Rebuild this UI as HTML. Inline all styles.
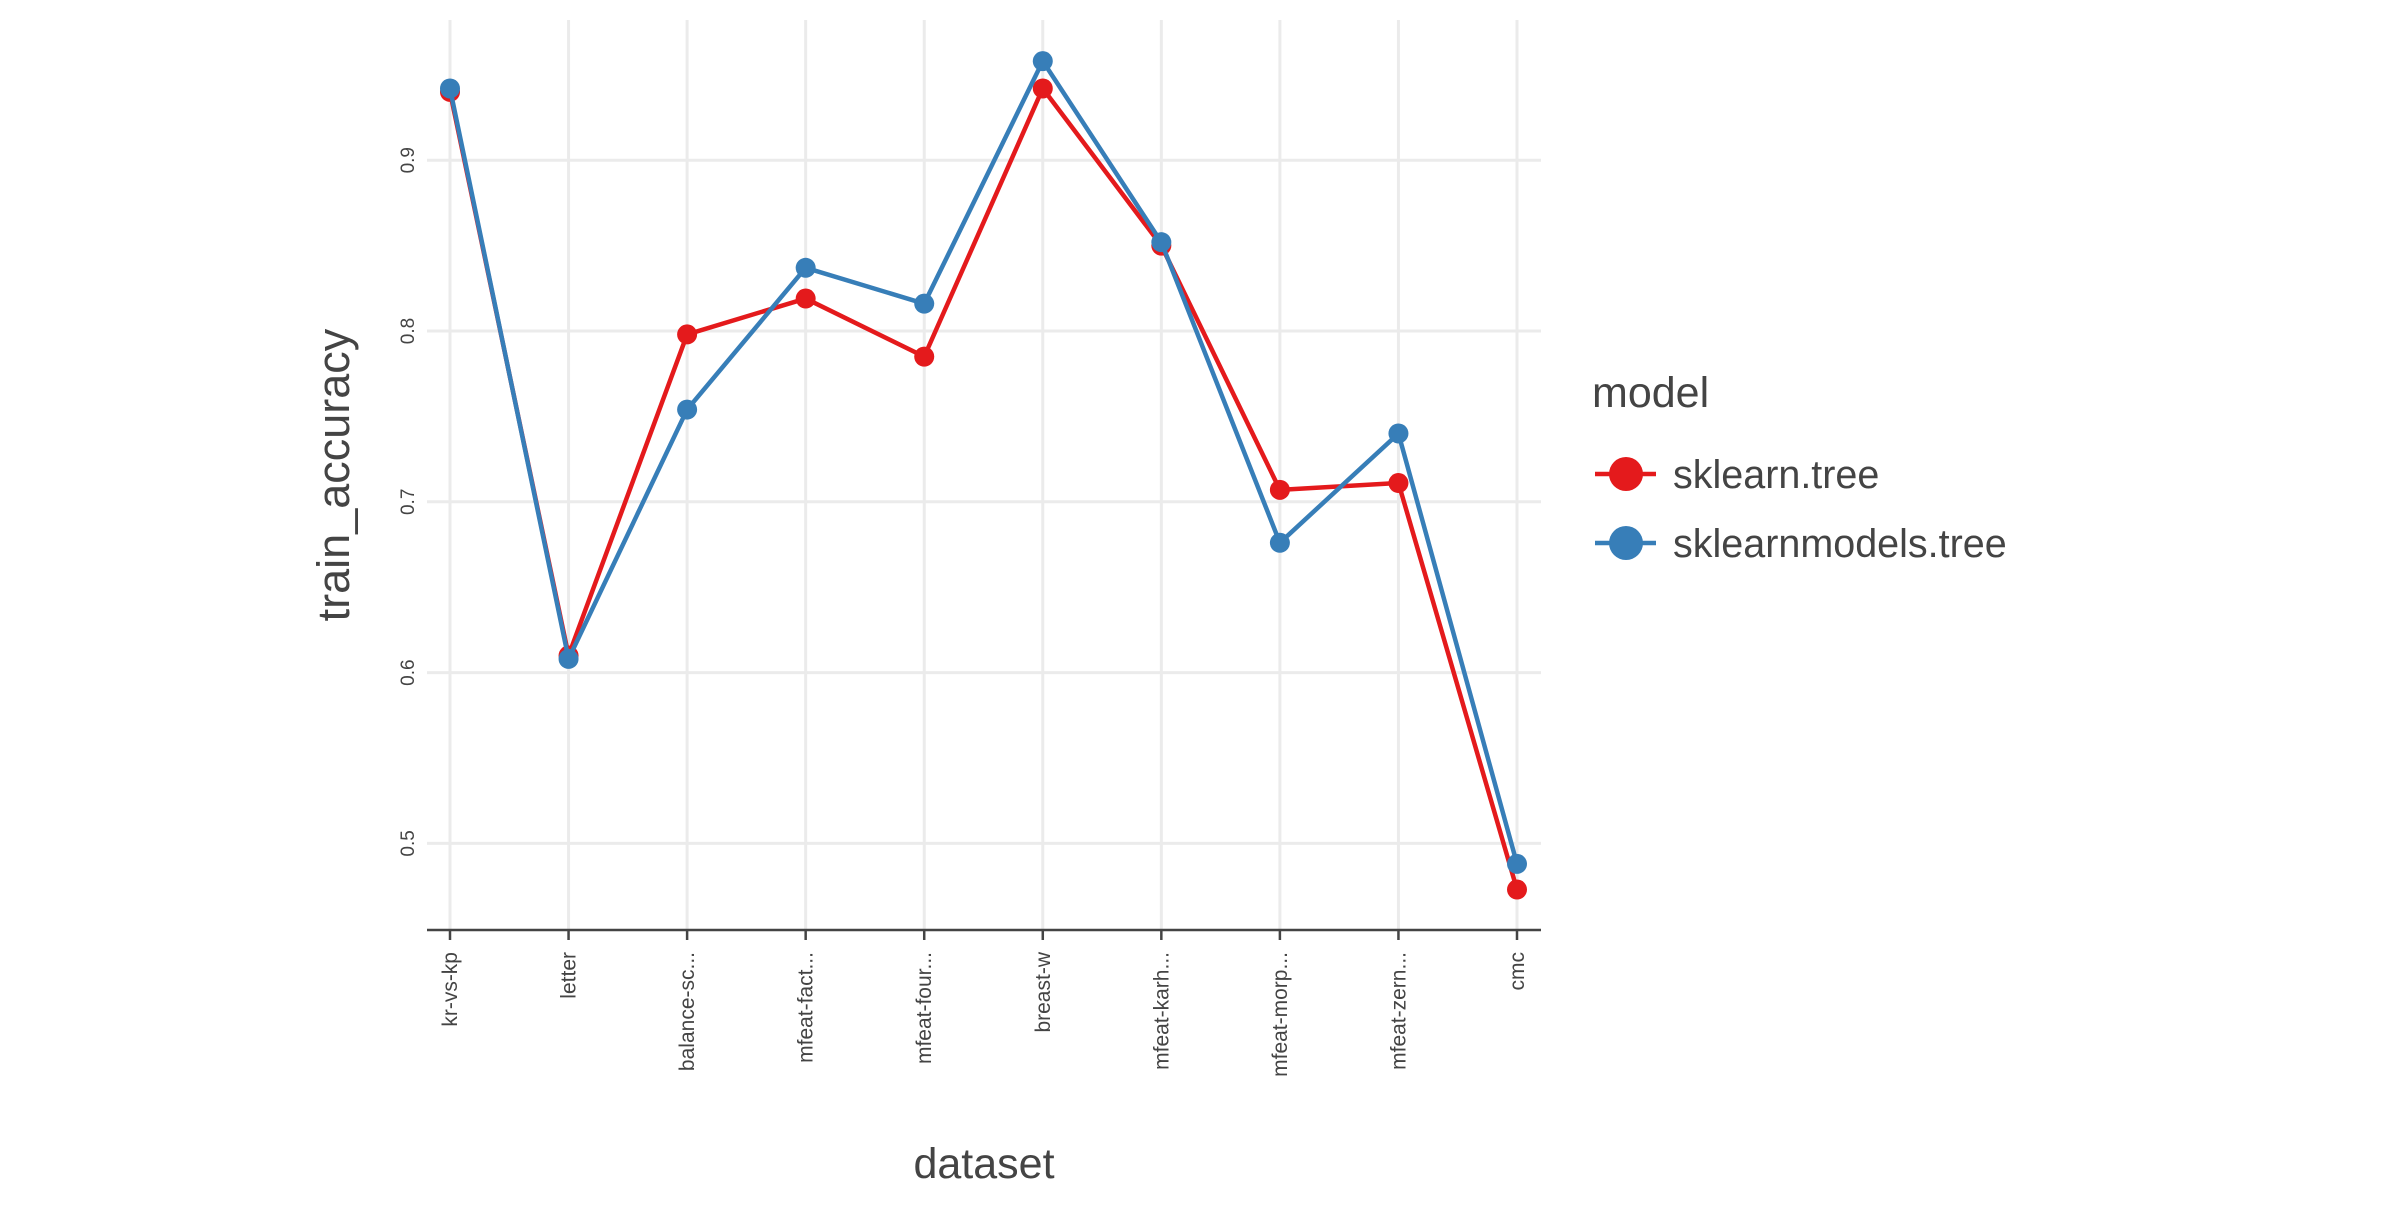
<!DOCTYPE html>
<html><head><meta charset="utf-8"><style>
html,body{margin:0;padding:0;background:#fff}
svg text{font-family:"Liberation Sans",sans-serif;fill:#444}
</style></head><body>
<svg id="chart" width="2400" height="1200" viewBox="0 0 2400 1200">
<g id="grid"></g>
<g id="axes"></g>
<g id="series"></g>
<text x="334" y="475" font-size="45" text-anchor="middle" transform="rotate(-90 334 475)" dy="15">train_accuracy</text>
<text x="984" y="1178" font-size="43" text-anchor="middle">dataset</text>
<g>
<text x="1592" y="407" font-size="43">model</text>
<g>
<line x1="1595" y1="474" x2="1656" y2="474" stroke="#E41A1C" stroke-width="4.5"/>
<circle cx="1626" cy="474" r="17" fill="#E41A1C"/>
<text x="1673" y="488" font-size="39.5">sklearn.tree</text></g>
<g>
<line x1="1595" y1="543" x2="1656" y2="543" stroke="#377EB8" stroke-width="4.5"/>
<circle cx="1626" cy="543" r="17" fill="#377EB8"/>
<text x="1673" y="557" font-size="39.5">sklearnmodels.tree</text></g>
</g>
</svg>
<script>
const categories=["kr-vs-kp","letter","balance-sc...","mfeat-fact...","mfeat-four...","breast-w","mfeat-karh...","mfeat-morp...","mfeat-zern...","cmc"];
const sklearnTree=[0.940,0.610,0.798,0.819,0.785,0.942,0.850,0.707,0.711,0.473];
const sklearnmodelsTree=[0.942,0.608,0.754,0.837,0.816,0.958,0.852,0.676,0.740,0.488];
const yTicks=[0.5,0.6,0.7,0.8,0.9];
const NS="http://www.w3.org/2000/svg";
const px0=427,px1=1541,py0=20,py1=930;
function x(i){return 450+i*(1517-450)/(categories.length-1);}
function y(v){return 843.4-(v-0.5)*1708;}
function mk(t,a,p){const e=document.createElementNS(NS,t);for(const k in a)e.setAttribute(k,a[k]);p.appendChild(e);return e;}
const grid=document.getElementById('grid'),axes=document.getElementById('axes'),ser=document.getElementById('series');
yTicks.forEach(v=>{
 const l=mk('line',{x1:px0,x2:px1,y1:y(v),y2:y(v),stroke:'#ebebeb','stroke-width':3},grid);
 
 
 const t=mk('text',{x:408,y:y(v),'font-size':19,'text-anchor':'middle',transform:`rotate(-90 408 ${y(v)})`,dy:6},axes);
 t.textContent=v.toFixed(1);
 
 
});
categories.forEach((c,i)=>{
 const l=mk('line',{x1:x(i),x2:x(i),y1:py0,y2:py1,stroke:'#ebebeb','stroke-width':3},grid);
 
 
 const tk=mk('line',{x1:x(i),x2:x(i),y1:py1,y2:py1+10,stroke:'#444','stroke-width':2.5},axes);
 
 
 const t=mk('text',{x:x(i),y:952,'font-size':21,'text-anchor':'end',transform:`rotate(-90 ${x(i)} 952)`,dy:7},axes);
 t.textContent=c;
 
 
});
const ax=mk('line',{x1:px0,x2:px1,y1:py1,y2:py1,stroke:'#444','stroke-width':2.5},axes);


function draw(vals,col,name){
 const pl=mk('polyline',{points:vals.map((v,i)=>x(i)+','+y(v)).join(' '),fill:'none',stroke:col,'stroke-width':4.5,'stroke-linejoin':'round'},ser);
 
 
 vals.forEach((v,i)=>{
  const c=mk('circle',{cx:x(i),cy:y(v),r:10,fill:col},ser);
  
  
 });
}
draw(sklearnTree,'#E41A1C','sklearn-tree');
draw(sklearnmodelsTree,'#377EB8','sklearnmodels-tree');
</script>
</body></html>
